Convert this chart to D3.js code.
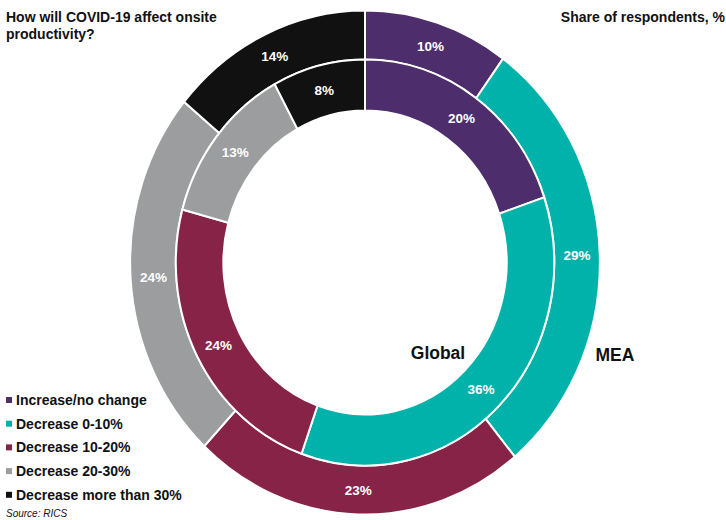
<!DOCTYPE html>
<html>
<head>
<meta charset="utf-8">
<script src="https://cdn.jsdelivr.net/npm/d3@7"></script>
<style>
  body { margin:0; background:#fff; }
  svg { font-family: "Liberation Sans", Arial, sans-serif; }
  .title { font-size:14px; font-weight:bold; fill:#111; }
  .lbl { font-size:13.5px; font-weight:bold; fill:#fff; }
  .leg { font-size:14px; font-weight:bold; fill:#111; }
</style>
</head>
<body>
<svg id="chart" width="726" height="520"></svg>
<script>
const categories = ['Increase/no change','Decrease 0-10%','Decrease 10-20%','Decrease 20-30%','Decrease more than 30%'];
const colors = ['#4d2d6b','#00b2aa','#872346','#9c9d9f','#111111'];
const meaValues = [10, 29, 23, 24, 14];
const globalValues = [20, 36, 24, 13, 8];

const svg = d3.select('#chart');
const cx = 365, cy = 262.5, sx = 0.932;

const pie = d3.pie().sort(null).value(d => d);

const rings = [
  { name:'MEA', values: meaValues, inner:203, outer:252 },
  { name:'Global', values: globalValues, inner:152, outer:203 }
];

const chartG = svg.append('g').attr('transform',`translate(${cx},${cy})`);

rings.forEach(ring => {
  const arc = d3.arc().innerRadius(ring.inner).outerRadius(ring.outer);
  const arcs = pie(ring.values);
  chartG.append('g')
    .attr('transform',`scale(${sx},1)`)
    .selectAll('path').data(arcs)
    .enter().append('path')
      .attr('d', arc)
      .attr('fill', (d,i) => colors[i])
      .attr('stroke','#fff')
      .attr('stroke-width',2)
      .attr('vector-effect','non-scaling-stroke');
  chartG.append('g').selectAll('text').data(arcs)
    .enter().append('text')
      .attr('class','lbl')
      .attr('x', d => arc.centroid(d)[0]*sx)
      .attr('y', d => arc.centroid(d)[1])
      .attr('dy','0.35em')
      .attr('text-anchor','middle')
      .text(d => d.data + '%');
});

svg.append('text').attr('x',438).attr('y',359).attr('text-anchor','middle')
  .style('font-size','17.5px').style('font-weight','bold').attr('fill','#111').text('Global');
svg.append('text').attr('x',615).attr('y',361).attr('text-anchor','middle')
  .style('font-size','17.5px').style('font-weight','bold').attr('fill','#111').text('MEA');

svg.append('text').attr('class','title').attr('x',6).attr('y',22).text('How will COVID-19 affect onsite');
svg.append('text').attr('class','title').attr('x',6).attr('y',39).text('productivity?');
svg.append('text').attr('class','title').attr('x',725).attr('y',22).attr('text-anchor','end').text('Share of respondents, %');

const leg = svg.append('g').selectAll('g').data(categories)
  .enter().append('g')
    .attr('transform',(d,i) => `translate(6,${400 + i*23.7})`);
leg.append('rect').attr('x',0).attr('y',-3).attr('width',6).attr('height',6)
  .attr('fill',(d,i) => colors[i]);
leg.append('text').attr('class','leg').attr('x',10).attr('dy','0.36em').text(d => d);

svg.append('text').attr('x',6).attr('y',517)
  .style('font-size','10px').style('font-style','italic').attr('fill','#111').text('Source: RICS');
</script>
</body>
</html>
